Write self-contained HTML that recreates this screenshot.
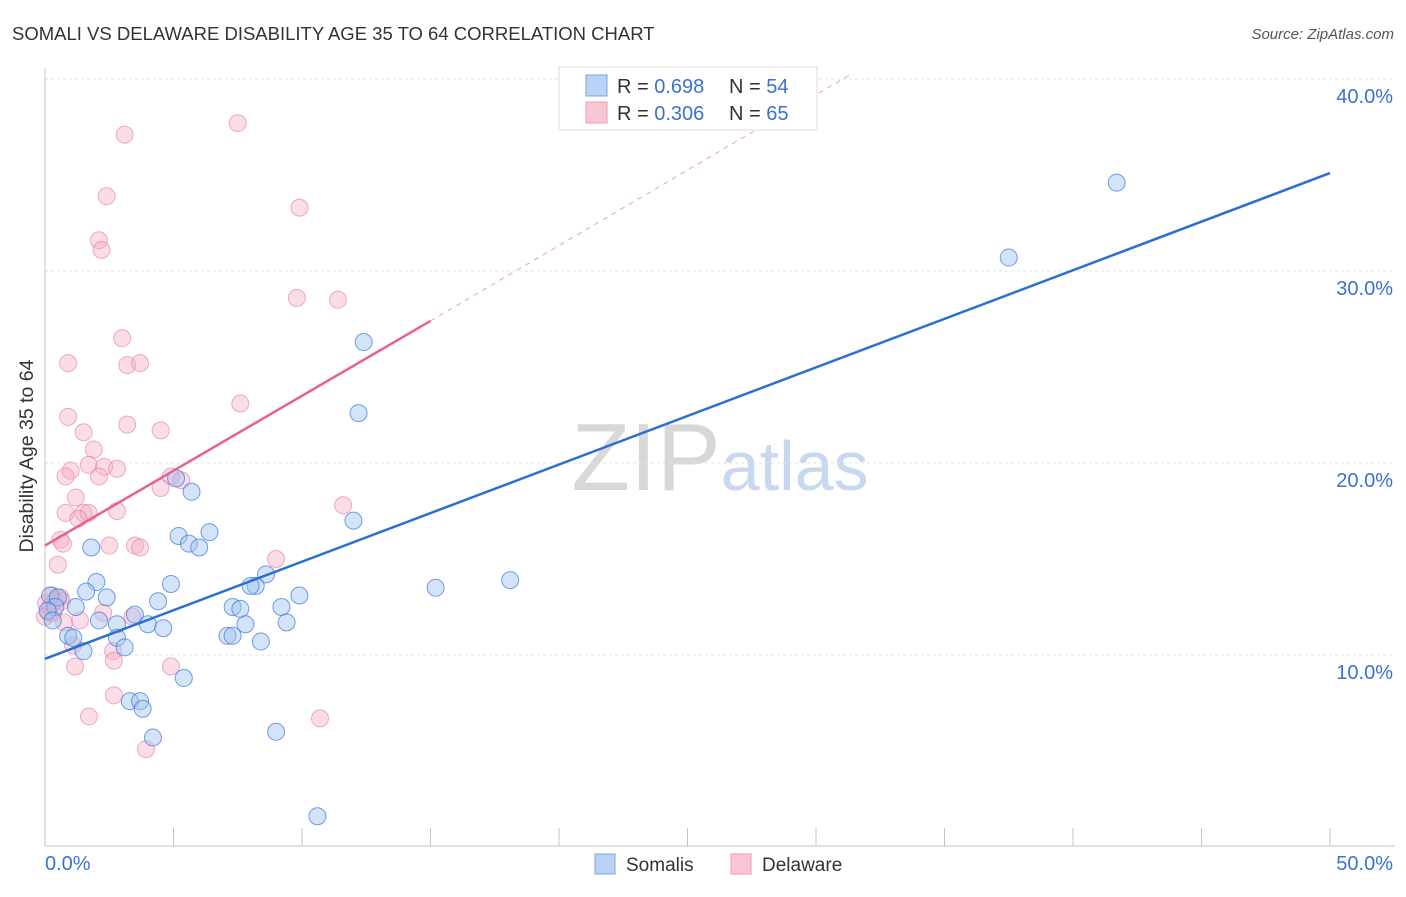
<!DOCTYPE html>
<html><head><meta charset="utf-8"><style>
body{margin:0;background:#fff;font-family:"Liberation Sans",sans-serif;}
svg text{font-family:"Liberation Sans",sans-serif;}
</style></head><body>
<svg id="chart" width="1406" height="892" xmlns="http://www.w3.org/2000/svg">
<text x="12" y="40" font-size="18.5" fill="#333">SOMALI VS DELAWARE DISABILITY AGE 35 TO 64 CORRELATION CHART</text>
<text x="1394" y="39" font-size="15" fill="#555" text-anchor="end" font-style="italic">Source: ZipAtlas.com</text>
<text transform="translate(33,456) rotate(-90)" font-size="19.5" fill="#333" text-anchor="middle">Disability Age 35 to 64</text>
<text x="720" y="490" font-size="96" text-anchor="middle" fill="#ddd" font-family="Liberation Serif"><tspan fill="#d8d8d8">ZIP</tspan><tspan fill="#c8d8ee" font-family="Liberation Sans" font-size="70">atlas</tspan></text>
<g id="grid"></g><g id="axes"></g><g id="marks"></g>
<g>
<rect x="559" y="67" width="258" height="63" fill="#fff" stroke="#ddd"/>
<rect x="586" y="75" width="21" height="21" fill="#b9d3f5" stroke="#7aa6e0"/>
<rect x="586" y="102" width="21" height="21" fill="#fac6d5" stroke="#ee9ab4"/>
<text x="617" y="93" font-size="20" fill="#333">R = <tspan fill="#3b72d0">0.698</tspan></text>
<text x="729" y="93" font-size="20" fill="#333">N = <tspan fill="#3b72d0">54</tspan></text>
<text x="617" y="120" font-size="20" fill="#333">R = <tspan fill="#3b72d0">0.306</tspan></text>
<text x="729" y="120" font-size="20" fill="#333">N = <tspan fill="#3b72d0">65</tspan></text>
</g>
<g>
<rect x="595" y="854" width="20" height="20" fill="#b9d3f5" stroke="#7aa6e0"/>
<text x="626" y="871" font-size="19" fill="#333">Somalis</text>
<rect x="731" y="854" width="20" height="20" fill="#fac6d5" stroke="#ee9ab4"/>
<text x="762" y="871" font-size="19" fill="#333">Delaware</text>
</g>
</svg>
<script>
const xTicks=[0,5,10,15,20,25,30,35,40,45,50];
const yTicks=[10,20,30,40];
const yTickLabels=["10.0%","20.0%","30.0%","40.0%"];
const somalisX=[41.7,37.5,12.4,12.2,12.0,15.2,18.1,5.7,5.1,6.4,5.2,5.6,6.0,1.8,4.9,2.0,1.6,2.4,4.4,0.2,0.5,1.2,3.5,2.8,4.0,4.6,2.1,0.9,1.1,2.8,3.1,1.5,0.4,8.6,8.2,8.0,7.3,7.6,9.2,9.9,9.4,7.8,7.1,7.3,8.4,5.4,3.3,3.7,3.8,4.2,8.99,10.6,0.1,0.3];
const somalisY=[34.6,30.7,26.3,22.6,17.0,13.5,13.9,18.5,19.2,16.4,16.2,15.8,15.6,15.6,13.7,13.8,13.3,13.0,12.8,13.1,13.0,12.5,12.1,11.6,11.6,11.4,11.8,11.0,10.9,10.9,10.4,10.2,12.5,14.2,13.6,13.6,12.5,12.4,12.5,13.1,11.7,11.6,11.0,11.0,10.7,8.8,7.6,7.6,7.2,5.7,6.0,1.6,12.3,11.8];
const delawareX=[7.5,3.1,9.9,2.4,2.1,2.2,9.8,11.4,3.0,0.9,3.2,3.7,7.6,0.9,3.2,1.5,4.5,1.9,1.0,1.7,2.3,2.8,0.8,2.1,4.9,5.3,4.5,1.2,0.8,1.5,1.7,1.3,2.8,0.6,0.7,2.5,3.5,3.7,0.5,0.3,0.6,8.99,11.6,0.04,0.16,0.74,1.36,2.26,3.4,2.65,2.68,1.09,1.17,4.9,2.68,1.71,3.93,10.7,0.39,0.19,0.0,0.31,0.66];
const delawareY=[37.7,37.1,33.3,33.9,31.6,31.1,28.6,28.5,26.5,25.2,25.1,25.2,23.1,22.4,22.0,21.6,21.7,20.7,19.6,19.9,19.8,19.7,19.3,19.3,19.3,19.1,18.7,18.2,17.4,17.4,17.4,17.1,17.5,16.0,15.8,15.7,15.7,15.6,14.7,13.1,13.0,15.0,17.8,12.7,12.2,11.7,11.8,12.2,12.0,10.2,9.7,10.5,9.4,9.4,7.9,6.8,5.1,6.7,12.8,12.5,12.0,12.2,12.8];
const somalisTrend=[0,9.8,50,35.1];
const delawareTrend=[0,15.7,15,27.4];
const delawareDash=[15,27.4,31.3,40.2];
const NS="http://www.w3.org/2000/svg";
const X=v=>45+v*25.7, Y=v=>847-v*19.2;
function mk(t,a,p){const e=document.createElementNS(NS,t);for(const k in a)e.setAttribute(k,a[k]);p.appendChild(e);return e;}
const grid=document.getElementById('grid'),axes=document.getElementById('axes'),marks=document.getElementById('marks');
yTicks.forEach((t,i)=>{
 const l=mk('line',{x1:45,x2:1395,y1:Y(t),y2:Y(t),stroke:'#e2e2e2','stroke-dasharray':'3,3'},grid);
 
 
 const tx=mk('text',{x:1393,y:Y(t)+24,'font-size':20,fill:'#3b72d0','text-anchor':'end'},axes);
 tx.textContent=yTickLabels[i];
 
 
});
const topGrid=mk('line',{x1:45,x2:1395,y1:79,y2:79,stroke:'#e2e2e2','stroke-dasharray':'3,3'},grid);


const ya=mk('line',{x1:45,x2:45,y1:68,y2:846,stroke:'#c4c4c4'},axes);


const xa=mk('line',{x1:45,x2:1395,y1:846,y2:846,stroke:'#c4c4c4'},axes);


xTicks.forEach(t=>{
 const l=mk('line',{x1:X(t),x2:X(t),y1:828,y2:846,stroke:'#c4c4c4'},axes);
 
 
});
const xl0=mk('text',{x:45,y:870,'font-size':20,fill:'#3b72d0'},axes);xl0.textContent='0.0%';


const xl1=mk('text',{x:1393,y:870,'font-size':20,fill:'#3b72d0','text-anchor':'end'},axes);xl1.textContent='50.0%';


delawareX.forEach((x,i)=>{
 const c=mk('circle',{cx:X(x),cy:Y(delawareY[i]),r:8.5,fill:'rgba(246,170,195,0.4)',stroke:'rgba(232,120,160,0.6)','stroke-width':1},marks);
 
 
});
somalisX.forEach((x,i)=>{
 const c=mk('circle',{cx:X(x),cy:Y(somalisY[i]),r:8.5,fill:'rgba(160,195,240,0.45)',stroke:'rgba(60,120,215,0.7)','stroke-width':1},marks);
 
 
});
const bt=mk('line',{x1:X(somalisTrend[0]),y1:Y(somalisTrend[1]),x2:X(somalisTrend[2]),y2:Y(somalisTrend[3]),stroke:'#2a6fd6','stroke-width':2.5},marks);


const pt=mk('line',{x1:X(delawareTrend[0]),y1:Y(delawareTrend[1]),x2:X(delawareTrend[2]),y2:Y(delawareTrend[3]),stroke:'#e8608e','stroke-width':2.5},marks);


const pd=mk('line',{x1:X(delawareDash[0]),y1:Y(delawareDash[1]),x2:X(delawareDash[2]),y2:Y(delawareDash[3]),stroke:'#eaa0b8','stroke-width':1,'stroke-dasharray':'5,5'},marks);


</script>
</body></html>
